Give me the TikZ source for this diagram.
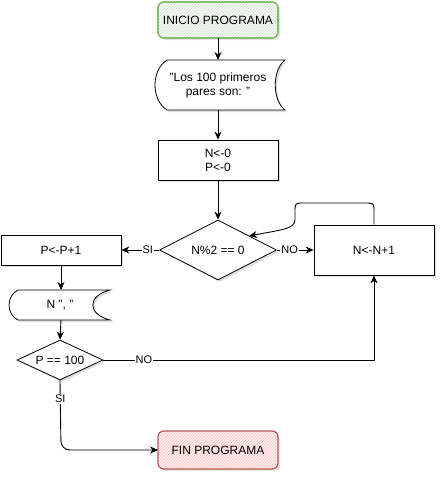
\documentclass[tikz,border=0pt]{standalone}
\usepackage{fontspec}
\setmainfont{Liberation Sans}
\usetikzlibrary{arrows.meta,shapes.geometric,patterns,shadows,positioning}
\begin{document}
\begin{tikzpicture}[x=1pt,y=-1pt,
  every node/.style={font=\fontsize{12}{14}\selectfont},
  conn/.style={draw=black,line width=0.9pt,-{Stealth[length=8pt,width=7pt,inset=2.5pt]}},
  plain/.style={draw=black,line width=0.9pt},
  shp/.style={draw=black,line width=0.8pt,fill=white,drop shadow={shadow xshift=2pt,shadow yshift=-2pt,opacity=0.25}},
  procbox/.style={shp,rectangle,minimum width=120pt,minimum height=40pt,align=center,inner sep=0pt},
  decision/.style={shp,diamond,aspect=1.93,inner sep=0pt,align=center},
  lbl/.style={fill=white,inner sep=1pt,font=\fontsize{11}{13}\selectfont},
  txt/.style={align=center,inner sep=0pt}
]
\useasboundingbox (0,0) rectangle (446,482);

% start terminal
\path[draw=green!45!black!60!green!70,line width=1.2pt,fill=green!6,rounded corners=6pt,drop shadow={shadow xshift=2pt,shadow yshift=-2pt,opacity=0.2}] (158,2) rectangle (278,38);
\fill[pattern=north east lines,pattern color=black!15,rounded corners=6pt] (159,3) rectangle (277,37);
\draw[draw={rgb,255:red,130;green,179;blue,102},line width=1.2pt,rounded corners=6pt] (158,2) rectangle (278,38);
\node[txt] (start) at (218,20) {INICIO PROGRAMA};
\coordinate (startb) at (218,38);

% display 1
\path[shp] (167,60) -- (285,60) .. controls (272,70) and (272,100) .. (285,110) -- (167,110) .. controls (151,100) and (151,70) .. (167,60) -- cycle;
\node[txt] (disp1) at (218,85) {"Los 100 primeros\\pares son: "};
\coordinate (disp1t) at (218,60);
\coordinate (disp1b) at (218,110);

% init
\node[procbox] (init) at (218,160) {N<-0\\P<-0};

% decision 1
\node[decision,minimum width=117pt,minimum height=60pt] (dec1) at (218,250) {N\%2 == 0};

% N<-N+1
\node[procbox,minimum height=50pt] (inc) at (374,250) {N<-N+1};

% P<-P+1
\node[procbox,minimum height=30pt] (pinc) at (61,250) {P<-P+1};

% display 2
\path[shp] (18,290) -- (110,290) .. controls (87,296) and (87,314) .. (110,320) -- (18,320) .. controls (6,314) and (6,296) .. (18,290) -- cycle;
\node[txt] (disp2) at (60,305) {N ", "};
\coordinate (disp2t) at (61,290);
\coordinate (disp2b) at (61,320);

% decision 2
\node[decision,minimum width=86pt,minimum height=40pt] (dec2) at (60,360) {P == 100};

% end terminal
\path[fill=red!6,rounded corners=6pt,drop shadow={shadow xshift=2pt,shadow yshift=-2pt,opacity=0.2}] (158,431) rectangle (278,469);
\fill[pattern=north east lines,pattern color=red!25,rounded corners=6pt] (159,432) rectangle (277,468);
\draw[draw={rgb,255:red,184;green,84;blue,80},line width=1.2pt,rounded corners=6pt] (158,431) rectangle (278,469);
\node[txt] (fin) at (218,450) {FIN PROGRAMA};
\coordinate (finw) at (158,450);

% connectors
\draw[conn] (startb) -- (disp1t);
\draw[conn] (disp1b) -- (init.north);
\draw[conn] (init.south) -- (dec1.north);
\draw[conn] (dec1.west) -- node[lbl,pos=0.3] {SI} (pinc.east);
\draw[conn] (dec1.east) -- node[lbl,pos=0.35] {NO} (inc.west);
\coordinate (loopa) at (374,203);
\coordinate (loopb) at (295,203);
\coordinate (loopc) at (295,226);
\coordinate (dec1in) at (249,236);
\draw[conn] (inc.north) -- (374,212) .. controls (374,203) and (374,203) .. (365,203) -- (304,203) .. controls (295,203) and (295,203) .. (295,212) -- (295,220) .. controls (295,229) and (280,230) .. (dec1in);
\draw[conn] (pinc.south) -- (disp2t);
\draw[conn] (disp2b) -- (dec2.north);
\coordinate (nocorner) at (374,360);
\draw[conn] (dec2.east) -- node[lbl,pos=0.15] {NO} (nocorner) -- (inc.south);
\coordinate (sicorner) at (61,450);
\draw[conn,rounded corners=9pt] (dec2.south) -- node[lbl,pos=0.27] {SI} (sicorner) -- (finw);
\end{tikzpicture}
\end{document}
